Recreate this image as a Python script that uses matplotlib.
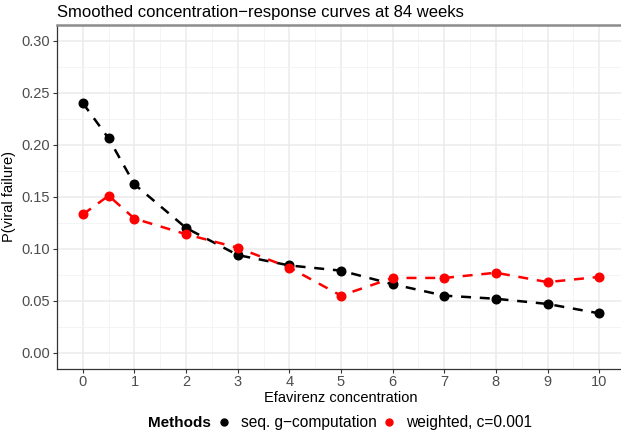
import numpy as np
import matplotlib.pyplot as plt
from matplotlib.lines import Line2D
from matplotlib.ticker import MultipleLocator

plt.rcParams['font.family'] = ['Liberation Sans', 'DejaVu Sans']

conc = [0, 0.5, 1, 2, 3, 4, 5, 6, 7, 8, 9, 10]
gcomp = [0.240, 0.206, 0.162, 0.120, 0.094, 0.084, 0.079, 0.066, 0.055, 0.052, 0.047, 0.038]
weighted = [0.133, 0.151, 0.129, 0.114, 0.101, 0.082, 0.055, 0.072, 0.072, 0.077, 0.068, 0.073]
method_names = ['seq. g\u2212computation', 'weighted, c=0.001']
method_cols = ['black', 'red']

fig = plt.figure(figsize=(6.21, 4.32), dpi=100)
ax = fig.add_axes([57/621, 1 - 368.5/432, 568/621, 343.5/432])

for y, c in zip([gcomp, weighted], method_cols):
    ax.plot(conc, y, color=c, lw=1.8, ls=(0, (4, 3.5)), marker='o',
            markersize=6.2, zorder=3)

ax.set_xlim(-0.5, 10.5)
ax.set_ylim(-0.015, 0.315)
ax.xaxis.set_major_locator(MultipleLocator(1))
ax.xaxis.set_minor_locator(MultipleLocator(0.5))
ax.yaxis.set_minor_locator(MultipleLocator(0.025))
ax.set_yticks(np.arange(0, 0.31, 0.05))
ax.set_yticklabels(['%.2f' % v for v in np.arange(0, 0.31, 0.05)])
ax.grid(which='major', color='#EBEBEB', lw=1.1, zorder=0)
ax.grid(which='minor', color='#F2F2F2', lw=0.6, zorder=0)
ax.set_axisbelow(True)

ax.tick_params(which='major', length=3, width=0.8, color='#333333',
               labelsize=10.5, labelcolor='#4D4D4D', pad=2)
ax.tick_params(which='minor', length=0)
for s in ['left', 'bottom']:
    ax.spines[s].set_color('#333333')
    ax.spines[s].set_linewidth(0.9)
ax.spines['top'].set_color('#8C8C8C')
ax.spines['top'].set_linewidth(1.8)
ax.spines['right'].set_visible(False)

ax.set_xlabel('Efavirenz concentration', fontsize=10.5, labelpad=1)
ax.set_ylabel('P(viral failure)', fontsize=10.5, labelpad=4)
fig.text(57/621, 1 - 13/432, 'Smoothed concentration\u2212response curves at 84 weeks',
         fontsize=12, va='center', ha='left')

fig.text(148/621, 1 - 423/432, 'Methods', fontsize=11, fontweight='bold',
         va='center', ha='left')
handles = [Line2D([], [], color=c, marker='o', ls='none', markersize=5)
           for c in method_cols]
fig.legend(handles, method_names, loc='center left',
           bbox_to_anchor=(216/621, 1 - 423/432), ncol=2, frameon=False,
           fontsize=11.2, handlelength=1.0, handletextpad=0.6,
           columnspacing=0.3, borderaxespad=0, borderpad=0)

fig.savefig('out.png', dpi=100)
